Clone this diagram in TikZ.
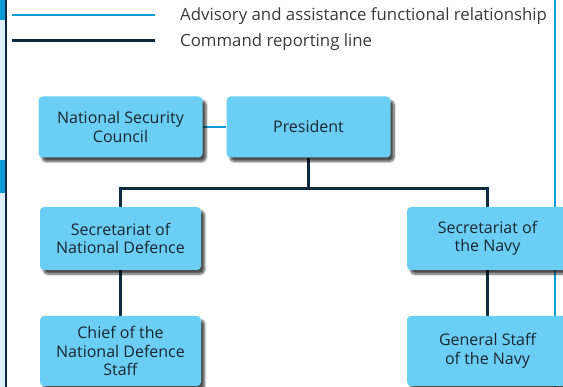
\documentclass[tikz,border=0pt]{standalone}
\usepackage{fontspec}
\setmainfont{Open Sans}
\usetikzlibrary{positioning,shadows.blur,backgrounds}

\definecolor{boxfill}{HTML}{6BCFF5}
\definecolor{boxtext}{HTML}{1C2630}
\definecolor{cmdcol}{HTML}{0D2B3E}
\definecolor{advcol}{HTML}{0B9BD7}
\definecolor{legtext}{HTML}{3A3A3A}
\definecolor{edgelight}{HTML}{DCEFFA}

\tikzset{
	orgbox/.style={fill=boxfill, rounded corners=4pt, text=boxtext, align=center,
		font=\fontsize{16}{18.5}\selectfont, inner sep=0pt,
		blur shadow={shadow xshift=3.5pt, shadow yshift=-4pt, shadow blur steps=6, shadow opacity=70}},
	cmdline/.style={draw=cmdcol, line width=3pt},
	advline/.style={draw=advcol, line width=2.4pt},
	legendtext/.style={text=legtext, anchor=west, inner sep=0pt, font=\fontsize{16.8}{19}\selectfont}
}

\begin{document}
\begin{tikzpicture}[x=1pt,y=-1pt]
		\def \wide{ 164 };
		\def \high{ 61 };
		\useasboundingbox (0,0) rectangle (563,387);
		% legend
		\coordinate (adv1) at (12,15);
		\coordinate (adv2) at (155,15);
		\coordinate (cmd1) at (12,41);
		\coordinate (cmd2) at (155,41);
		\node[legendtext, right=25pt of adv2, yshift=-1.5pt] (advtext) {Advisory and assistance functional relationship};
		\node[legendtext, right=25pt of cmd2, yshift=-1.5pt] (cmdtext) {Command reporting line};
		\draw[advline] (adv1) -- (adv2);
		\draw[cmdline] (cmd1) -- (cmd2);
		% boxes
		\node[orgbox, minimum width=\wide, minimum height=\high] (nsc) at (120.5,127) {National Security\\Council};
		\node[orgbox, minimum width=\wide, minimum height=\high] (pres) at (308.5,127) {President};
		\node[orgbox, minimum width=161, minimum height=63] (secdef) at (120.5,238.5) {Secretariat of\\National Defence};
		\node[orgbox, minimum width=161, minimum height=70] (chief) at (120.5,351) {Chief of the\\National Defence\\Staff};
		\node[orgbox, minimum width=161, minimum height=63] (secnavy) at (487.5,238.5) {Secretariat of\\the Navy};
		\node[orgbox, minimum width=161, minimum height=70] (genstaff) at (487.5,351) {General Staff\\of the Navy};
		\coordinate (bar) at (0,189);
		\coordinate (navytop) at (555,0);
		\coordinate (navybot) at (555,387);
		\begin{scope}[on background layer]
			% page edge
			\fill[edgelight] (0,0) rectangle (4.5,387);
			\fill[advcol] (0,0) rectangle (4.5,20);
			\fill[advcol] (0,160) rectangle (4.5,193);
			\fill[cmdcol] (5,0) rectangle (7,387);
			% connectors
			\draw[advline] (nsc.east) -- (pres.west);
			\draw[advline] (navytop) -- (navybot);
			\draw[cmdline] (pres.south) -- (pres.south |- bar) -| (secdef.north);
			\draw[cmdline] (pres.south |- bar) -| (secnavy.north);
			\draw[cmdline] (secdef.south) -- (chief.north);
			\draw[cmdline] (secnavy.south) -- (genstaff.north);
		\end{scope}
	\end{tikzpicture}
\end{document}
